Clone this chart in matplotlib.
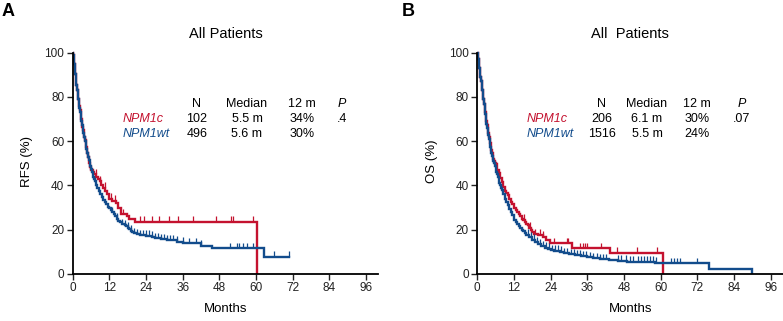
import matplotlib
matplotlib.use("Agg")
import matplotlib.pyplot as plt
from matplotlib import font_manager

RED = "#C4122F"
BLUE = "#124C8C"

# ---------------- RFS (panel A) ----------------
rfs_c_t = [0, 0.15, 0.3, 0.45, 0.6, 0.8, 1.0, 1.2, 1.4, 1.6, 1.8, 2.0, 2.2, 2.4, 2.6, 2.8, 3.0,
           3.2, 3.4, 3.6, 3.8, 4.0, 4.2, 4.4, 4.6, 4.8, 5.0, 5.25, 5.5, 5.75, 6.0, 6.5,
           7.0, 7.6, 8.2, 8.8, 9.3, 10.0, 10.6, 11.3, 12.0, 13.0, 14.2, 15.0, 15.8, 17.8, 18.5,
           20.5, 60.3]
rfs_c_s = [100, 99, 97, 95, 93, 90.5, 88, 85.5, 83, 81, 79, 77.5, 76, 74, 72, 70, 68,
           66.5, 65, 63.5, 62, 60.5, 59, 57.5, 56, 54.5, 53, 51.5, 50, 48.5, 47, 46,
           45, 44, 43, 42, 40, 39, 37.5, 36, 34, 33, 32, 30, 27, 26, 25,
           23.6, 0]
rfs_c_end = 60.3
rfs_c_cens = [7.5, 9.0, 10.5, 12.5, 14.0, 16.5, 22.0, 23.5, 25.9, 28.4, 31.4, 34.4, 39.5,
              47.0, 51.9, 52.4, 58.9]

rfs_w_t = [0, 0.15, 0.3, 0.45, 0.6, 0.8, 1.0, 1.2, 1.4, 1.6, 1.8, 2.0, 2.2, 2.4, 2.6, 2.8, 3.0,
           3.25, 3.5, 3.75, 4.0, 4.25, 4.5, 4.75, 5.0, 5.3, 5.6, 5.8, 6.0, 6.25, 6.5, 6.75, 7.0,
           7.25, 7.5, 7.75, 8.0, 8.5, 9.0, 9.5, 10.0, 10.5, 11.0, 11.5, 12.0, 12.5, 13.0, 13.5,
           14.0, 14.5, 15.0, 15.5, 16.0, 17.0, 17.5, 18.0, 18.5, 19.0, 19.5, 20.0, 21.0, 22.0,
           24.0, 26.0, 27.0, 29.0, 31.0, 34.0, 36.0, 38.0, 42.0, 45.5, 62.8]
rfs_w_s = [100, 99, 97, 95, 93, 90.5, 88, 85.5, 83, 81, 79, 77, 75, 73, 71, 69, 67.5,
           65.5, 63.5, 62, 60, 58, 56.5, 54.5, 53, 51.5, 50, 48.8, 47.5, 46.2, 45, 44, 43,
           42, 41, 40, 39, 37.5, 36, 35, 33.5, 32.5, 31.5, 30.5, 30, 29, 28, 27,
           26, 25, 24, 23.5, 22.5, 22, 21.5, 21, 20.5, 19.5, 19, 18.5, 18, 17.5,
           17.2, 16.8, 16.2, 15.8, 15.2, 14.6, 14.2, 13.8, 12.8, 11.6, 7.8]
rfs_w_end = 70.7
rfs_w_cens = [13.0, 14.5, 16.0, 17.0, 18.0, 19.0, 20.0, 21.0, 22.0, 23.0, 24.0, 25.0, 26.0,
              27.0, 28.0, 29.0, 30.0, 31.0, 32.0, 33.0, 34.0, 36.0, 38.0, 40.5, 42.0,
              51.5, 53.7, 54.6, 55.7, 57.2, 59.2, 65.8, 70.7]

# ---------------- OS (panel B) ----------------
os_c_t = [0, 0.15, 0.3, 0.5, 0.7, 0.85, 1.0, 1.2, 1.4, 1.6, 1.8, 2.0, 2.2, 2.4, 2.6, 2.8, 3.0,
          3.2, 3.4, 3.6, 3.8, 4.0, 4.2, 4.4, 4.6, 4.8, 5.0, 5.25, 5.5, 5.8, 6.1, 6.35, 6.6,
          7.0, 7.5, 8.0, 8.5, 9.0, 9.5, 10.0, 10.5, 11.0, 11.5, 12.0, 12.5, 13.0, 13.5, 14.0,
          14.5, 15.0, 15.5, 16.0, 16.5, 17.0, 17.5, 18.0, 18.5, 20.0, 21.5, 22.5, 23.8, 30.9,
          43.5, 60.8]
os_c_s = [100, 98.5, 97, 95, 93, 91, 89, 87, 85, 83, 81, 79, 77, 75, 73, 71, 69,
          67.2, 65.5, 63.8, 62, 60.5, 59, 57.5, 56, 54.5, 53, 52, 51, 50.2, 49.5, 48.2, 47,
          45.5, 43.5, 41.5, 39.5, 37.5, 36.5, 35.5, 34, 32.5, 31.5, 30, 29, 28, 27, 26,
          25, 24.5, 23.5, 22.5, 22, 21, 20, 19, 18, 17.7, 16.8, 15.5, 13.8, 11.7,
          9.7, 0]
os_c_end = 60.8
os_c_cens = [15.2, 17.2, 19.0, 20.5, 21.6, 25.0, 29.3, 29.8, 33.7, 34.5, 35.3, 35.8, 40.4,
             45.7, 52.2, 58.8]

os_w_t = [0, 0.15, 0.3, 0.5, 0.7, 0.85, 1.0, 1.2, 1.4, 1.6, 1.8, 2.0, 2.2, 2.4, 2.6, 2.8, 3.0,
          3.2, 3.4, 3.6, 3.8, 4.0, 4.2, 4.4, 4.6, 4.8, 5.0, 5.25, 5.5, 5.75, 6.0, 6.25, 6.5,
          6.75, 7.0, 7.25, 7.5, 7.75, 8.0, 8.5, 9.0, 9.5, 10.0, 10.5, 11.0, 11.5, 12.0, 12.5,
          13.0, 13.5, 14.0, 14.5, 15.0, 15.5, 16.0, 17.0, 18.0, 19.0, 20.0, 21.0, 22.0, 23.0,
          24.0, 25.0, 27.0, 28.5, 30.0, 32.0, 34.0, 36.0, 38.0, 40.0, 43.0, 46.0, 49.0, 58.0,
          60.0, 75.7, 89.7]
os_w_s = [100, 98.5, 97, 95, 93, 91, 89, 87, 85, 83, 81, 79, 77, 74.7, 72.5, 70.2, 68,
          66.2, 64.5, 62.8, 61, 59.2, 57.5, 56, 54.5, 53.2, 52, 51, 50, 48.8, 47.5, 46.2, 45,
          43.8, 42.5, 41.2, 40, 39, 38, 36, 34, 32.5, 31, 29.5, 28, 26.5, 24.5, 23.5,
          22.5, 21.5, 20.8, 20, 19.3, 18.5, 17.7, 16.6, 15.4, 14.4, 13.4, 12.6, 11.9, 11.3,
          10.8, 10.4, 10, 9.3, 8.9, 8.4, 8.0, 7.5, 7.1, 6.7, 6.3, 5.9, 5.5, 5.1,
          4.8, 2.3, 0]
os_w_end = 89.7
os_w_cens = [16.5, 17.5, 18.5, 19.5, 20.5, 21.5, 22.5, 23.5, 24.5, 25.5, 26.5, 27.5, 28.5,
             29.5, 30.5, 31.5, 32.5, 33.5, 34.5, 35.5, 36.9, 38.0, 39.0, 40.0, 41.0, 42.0,
             46.0, 47.0, 48.5, 50.0, 51.0, 52.5, 53.5, 54.5, 55.5, 56.5, 57.5, 58.5,
             63.2, 64.3, 65.4, 66.4, 71.9]

x_ticks = [0, 12, 24, 36, 48, 60, 72, 84, 96]
y_ticks = [0, 20, 40, 60, 80, 100]

panelA = {"ylabel": "RFS (%)", "groups": ["NPM1c", "NPM1wt"], "N": ["102", "496"],
          "median": ["5.5 m", "5.6 m"], "m12": ["34%", "30%"], "P": ".4"}
panelB = {"ylabel": "OS (%)", "groups": ["NPM1c", "NPM1wt"], "N": ["206", "1516"],
          "median": ["6.1 m", "5.5 m"], "m12": ["30%", "24%"], "P": ".07"}

avail = {f.name for f in font_manager.fontManager.ttflist}
base_font = "Liberation Sans" if "Liberation Sans" in avail else "DejaVu Sans"
narrow_font = "Liberation Sans Narrow" if "Liberation Sans Narrow" in avail else base_font
plt.rcParams["font.family"] = [base_font, "DejaVu Sans"]

fig = plt.figure(figsize=(7.83, 3.21), dpi=100)
W, H = 783.0, 321.0


def km_step(t, s, end):
    xs = list(t) + [end]
    ys = list(s) + [s[-1]]
    return xs, ys


def surv_at(t, s, x):
    v = s[0]
    for ti, si in zip(t, s):
        if ti <= x:
            v = si
    return v


def draw(ax_rect, curves, info):
    ax = fig.add_axes(ax_rect)
    for (t, s, end, cens, col) in curves:
        xs, ys = km_step(t, s, end)
        ax.step(xs, ys, where="post", color=col, lw=1.7, solid_joinstyle="miter")
        for c in cens:
            v = surv_at(t, s, c)
            ax.plot([c, c], [v, v + 2.5], color=col, lw=0.9, solid_capstyle="butt")
    ax.set_xlim(0, 100)
    ax.set_ylim(0, 102)
    ax.set_xticks(x_ticks)
    ax.set_yticks(y_ticks)
    ax.spines["top"].set_visible(False)
    ax.spines["right"].set_visible(False)
    ax.spines["left"].set_bounds(0, 100)
    for sp in ("left", "bottom"):
        ax.spines[sp].set_linewidth(1.3)
    ax.tick_params(direction="out", length=4, width=1.0, labelsize=8.5, pad=2, colors="#222222")
    ax.set_xlabel("Months", fontsize=9.5, family=narrow_font, labelpad=6)
    ax.set_ylabel(info["ylabel"], fontsize=9.5, family=narrow_font, labelpad=8)
    return ax


def fx(px):
    return px / W


def fy(py):
    return 1 - py / H


def table(x0, xN, xMed, x12, xP, info):
    rows_y = [119, 134]
    hy = 104
    fs = 9
    fig.text(fx(xN), fy(hy), "N", ha="center", va="center", fontsize=fs)
    fig.text(fx(xMed), fy(hy), "Median", ha="center", va="center", fontsize=fs)
    fig.text(fx(x12), fy(hy), "12 m", ha="center", va="center", fontsize=fs)
    fig.text(fx(xP), fy(hy), "P", ha="center", va="center", fontsize=fs, style="italic")
    cols = [RED, BLUE]
    for i in range(2):
        y = fy(rows_y[i])
        fig.text(fx(x0), y, info["groups"][i], ha="left", va="center", fontsize=fs,
                 style="italic", color=cols[i])
        fig.text(fx(xN), y, info["N"][i], ha="center", va="center", fontsize=fs)
        fig.text(fx(xMed), y, info["median"][i], ha="center", va="center", fontsize=fs)
        fig.text(fx(x12), y, info["m12"][i], ha="center", va="center", fontsize=fs)
    fig.text(fx(xP), fy(rows_y[0]), info["P"], ha="center", va="center", fontsize=fs)


bottom = fy(274)
top = fy(48.3)
axA = draw([fx(72.7), bottom, (378 - 72.7) / W, top - bottom],
           [(rfs_c_t, rfs_c_s, rfs_c_end, rfs_c_cens, RED),
            (rfs_w_t, rfs_w_s, rfs_w_end, rfs_w_cens, BLUE)], panelA)
axB = draw([fx(477.3), bottom, (783 - 477.3) / W, top - bottom],
           [(os_c_t, os_c_s, os_c_end, os_c_cens, RED),
            (os_w_t, os_w_s, os_w_end, os_w_cens, BLUE)], panelB)

table(123, 197, 247, 302, 342, panelA)
table(527, 602, 647, 697, 742, panelB)

fig.text(fx(226), fy(34), "All Patients", ha="center", va="center", fontsize=10.5)
fig.text(fx(630), fy(34), "All  Patients", ha="center", va="center", fontsize=10.5)
fig.text(fx(2), fy(11), "A", ha="left", va="center", fontsize=13, weight="bold")
fig.text(fx(402), fy(11), "B", ha="left", va="center", fontsize=13, weight="bold")

fig.savefig("out.png", dpi=100)
